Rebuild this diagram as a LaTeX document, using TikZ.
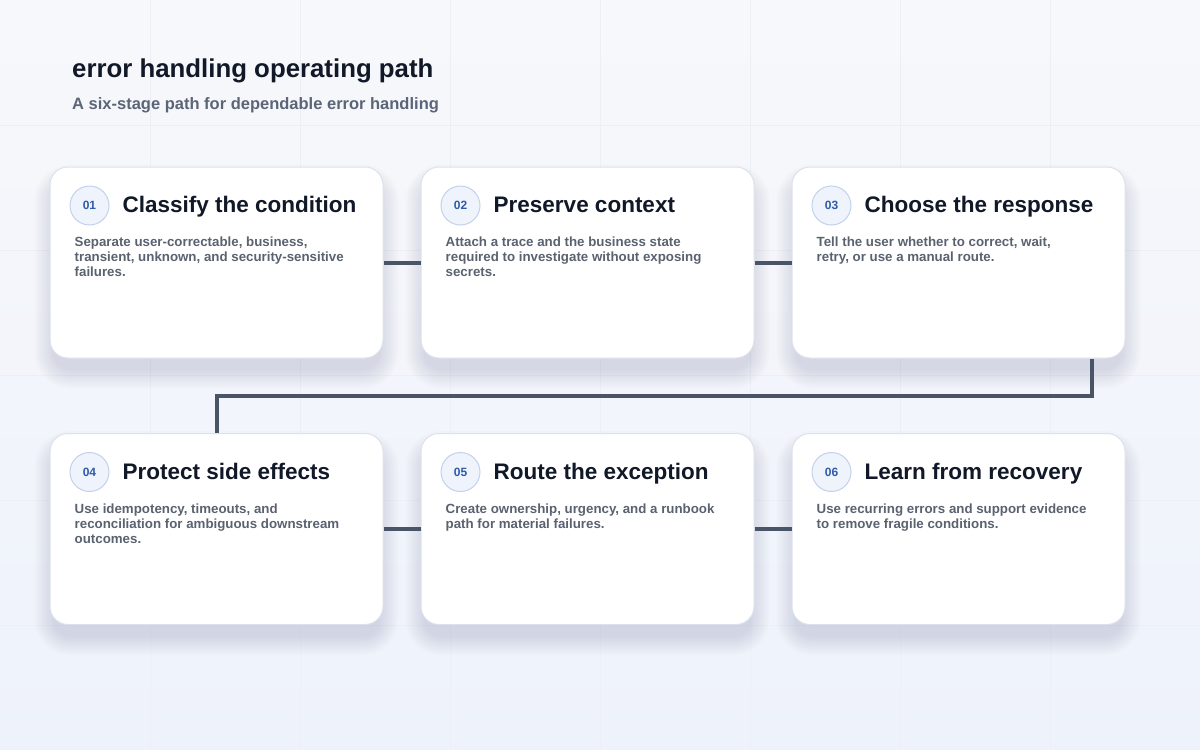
\documentclass[tikz,border=0pt]{standalone}
\usepackage{fontspec}
\setmainfont{Liberation Sans}
\usetikzlibrary{positioning}

\definecolor{ink}{HTML}{111827}
\definecolor{muted}{HTML}{5B6577}
\definecolor{bodytext}{HTML}{5A6270}
\definecolor{numblue}{HTML}{2F5BA8}
\definecolor{wire}{HTML}{4A5467}
\definecolor{cardline}{HTML}{DCE2EC}
\definecolor{badgefill}{HTML}{EEF3FC}
\definecolor{badgeline}{HTML}{C3D1EC}
\definecolor{gridline}{HTML}{ECEFF5}
\definecolor{bgtop}{HTML}{F7F8FB}
\definecolor{bgbottom}{HTML}{EEF2FB}
\definecolor{shade}{HTML}{1E2B4A}

\begin{document}
\begin{tikzpicture}[x=1pt,y=-1pt,
  card/.style={draw=cardline, line width=1pt, fill=white, rounded corners=18pt,
    minimum width=333pt, minimum height=191pt, inner sep=0pt},
  cardshade/.style={fill=shade, opacity=0.011},
  badge/.style={circle, draw=badgeline, fill=badgefill, line width=1pt, minimum size=39pt,
    inner sep=0pt, font=\fontsize{12}{12}\selectfont\bfseries, text=numblue},
  headline/.style={anchor=base west, inner sep=0pt, font=\fontsize{22.5}{26}\selectfont\bfseries, text=ink},
  blurb/.style={anchor=north west, inner sep=0pt, align=left, font=\fontsize{13.3}{15}\selectfont\bfseries, text=bodytext},
  link/.style={draw=wire, line width=4pt}]
\useasboundingbox (0,0) rectangle (1200,750);
\fill[top color=bgtop, bottom color=bgbottom] (0,0) rectangle (1200,750);
\foreach \gx in {150,300,...,1050} \draw[gridline] (\gx,0) -- (\gx,750);
\foreach \gy in {125,250,...,625} \draw[gridline] (0,\gy) -- (1200,\gy);

\node[anchor=base west, inner sep=0pt, font=\fontsize{25.8}{30}\selectfont\bfseries, text=ink] (title) at (72,77) {error handling operating path};
\node[anchor=base west, inner sep=0pt, font=\fontsize{16.5}{20}\selectfont\bfseries, text=muted] (subtitle) at (72,109) {A six-stage path for dependable error handling};

% six stage cards
\foreach \id/\cx/\cy/\num/\head/\lines in {
  s1/216.5/262.5/01/{Classify the condition}/{Separate user-correctable, business,\\transient, unknown, and security-sensitive\\failures.},
  s2/587.5/262.5/02/{Preserve context}/{Attach a trace and the business state\\required to investigate without exposing\\secrets.},
  s3/958.5/262.5/03/{Choose the response}/{Tell the user whether to correct, wait,\\retry, or use a manual route.},
  s4/216.5/529/04/{Protect side effects}/{Use idempotency, timeouts, and\\reconciliation for ambiguous downstream\\outcomes.},
  s5/587.5/529/05/{Route the exception}/{Create ownership, urgency, and a runbook\\path for material failures.},
  s6/958.5/529/06/{Learn from recovery}/{Use recurring errors and support evidence\\to remove fragile conditions.}}
{
  \foreach \k in {0,2,...,18}
    \fill[cardshade, rounded corners=18+\k] (\cx-164-\k,\cy-80-\k) rectangle (\cx+164+\k,\cy+108+\k);
  \node[card] (\id) at (\cx,\cy) {};
  \node[badge] (\id-num) at ([shift={(40,39)}]\id.north west) {\num};
  \node[headline] (\id-head) at ([shift={(73,46)}]\id.north west) {\head};
  \node[blurb] (\id-text) at ([shift={(25,70.5)}]\id.north west) {\lines};
}

% connectors
\path[link] (s1) -- (s2)
            (s2) -- (s3)
            (s4) -- (s5)
            (s5) -- (s6);
\draw[link] ([xshift=-34pt]s3.south east) -- ++(0,37) -| (s4.north);
\end{tikzpicture}
\end{document}
